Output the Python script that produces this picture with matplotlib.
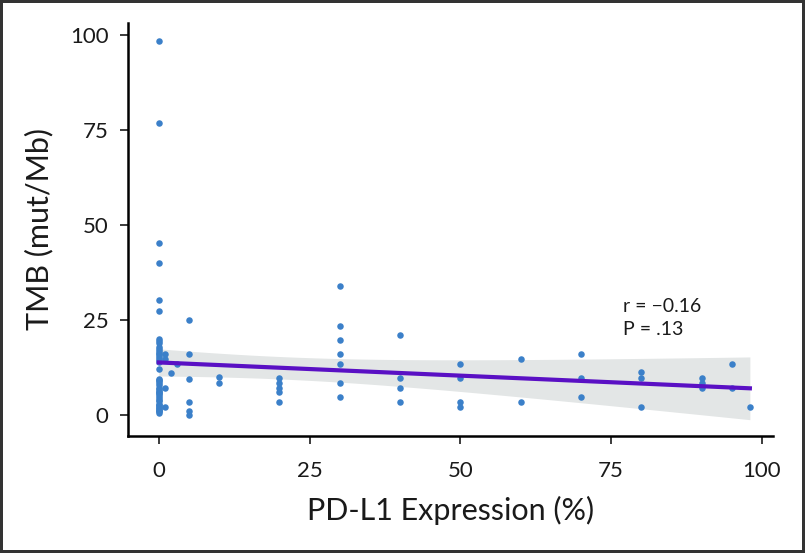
import numpy as np
import matplotlib.pyplot as plt

# PD-L1 expression (%) vs TMB (mut/Mb)
pdl1 = [0, 0, 0, 0, 0, 0,
        0, 0, 0, 0, 0, 0, 0,
        0, 0, 0, 0, 0, 0, 0, 0,
        1, 1, 1, 1, 2, 3,
        5, 5, 5, 5, 5, 5,
        10, 10,
        20, 20, 20, 20, 20,
        30, 30, 30, 30, 30, 30, 30,
        40, 40, 40, 40,
        50, 50, 50, 50,
        60, 60,
        70, 70, 70,
        80, 80, 80,
        90, 90, 90,
        95, 95,
        98]
tmb = [98.4, 76.9, 45.2, 40.1, 30.3, 27.4,
       20.0, 19.0, 18.0, 17.0, 16.0, 15.0, 12.2,
       9.6, 8.5, 7.3, 6.2, 5.0, 3.8, 2.5, 1.1,
       16.2, 14.9, 7.2, 2.2, 11.0, 13.6,
       25.0, 16.2, 9.6, 3.5, 1.2, 0.0,
       10.1, 8.6,
       9.9, 8.6, 7.3, 6.0, 3.5,
       34.0, 23.6, 19.9, 16.1, 13.4, 8.6, 4.7,
       21.1, 9.8, 7.3, 3.4,
       13.6, 9.7, 3.6, 2.1,
       14.8, 3.5,
       16.1, 9.8, 4.7,
       11.3, 9.8, 2.2,
       9.9, 8.5, 7.1,
       13.6, 7.3,
       2.2]

# r/P imply n ~ 91, so ~22 more samples sit hidden in the dense 0% column
pdl1_hidden = [0] * 22
tmb_hidden = [19.5, 17.5, 16.5, 15.5, 14.5, 14.0, 9.2, 9.0, 8.0, 7.0, 6.5,
              5.5, 4.5, 4.0, 3.0, 2.0, 1.8, 1.5, 1.0, 0.5, 2.8, 5.8]

stats_text = 'r = \u22120.16\nP = .13'

x = np.array(pdl1 + pdl1_hidden, dtype=float)
y = np.array(tmb + tmb_hidden, dtype=float)

# linear fit + 95% confidence band
slope, intercept = np.polyfit(x, y, 1)
n = len(x)
resid = y - (slope * x + intercept)
s = np.sqrt(np.sum(resid ** 2) / (n - 2))
sxx = np.sum((x - x.mean()) ** 2)
xs = np.linspace(x.min(), x.max(), 200)
ys = slope * xs + intercept
half = 1.987 * s * np.sqrt(1.0 / n + (xs - x.mean()) ** 2 / sxx)

plt.rcParams['font.family'] = ['Lato', 'DejaVu Sans']

fig = plt.figure(figsize=(8.05, 5.53), dpi=100)
fig.patch.set_edgecolor('#333333')
fig.patch.set_linewidth(3)
ax = fig.add_axes([0.159, 0.212, 0.801, 0.747])

ax.fill_between(xs, ys - half, ys + half, color='#e3e6e6', linewidth=0, zorder=1)
ax.scatter(x, y, s=22, color='#3b80c9', linewidths=0, zorder=2)
ax.plot(xs, ys, color='#5a10c4', linewidth=3, zorder=3)

ax.text(77, 30.8, stats_text, fontsize=14, color='#1a1a1a', ha='left', va='top', linespacing=1.4)

ax.set_xlim(-5.1, 101.8)
ax.set_ylim(-5.4, 103.3)
ax.set_xticks([0, 25, 50, 75, 100])
ax.set_yticks([0, 25, 50, 75, 100])
ax.spines['top'].set_visible(False)
ax.spines['right'].set_visible(False)
ax.spines['left'].set_linewidth(1.8)
ax.spines['bottom'].set_linewidth(1.8)
ax.tick_params(axis='both', direction='out', length=6, width=1.2, labelsize=16, colors='#1a1a1a')
ax.tick_params(axis='x', pad=12)
ax.tick_params(axis='y', pad=8)

ax.set_xlabel('PD-L1 Expression (%)', fontsize=22, color='#1a1a1a', labelpad=11)
ax.set_ylabel('TMB (mut/Mb)', fontsize=22, color='#1a1a1a', labelpad=12)

plt.savefig('out.png', dpi=100)
